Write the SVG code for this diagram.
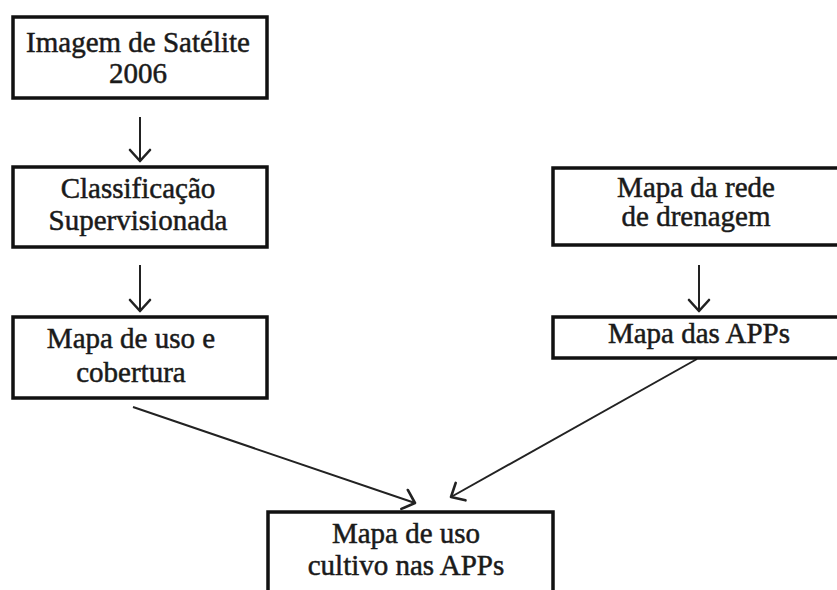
<svg xmlns="http://www.w3.org/2000/svg" width="837" height="590" viewBox="0 0 837 590">
<style>
.box{fill:#fff;stroke:#111;stroke-width:3.5}
.t{font-family:"Liberation Serif","DejaVu Serif",serif;font-size:29px;fill:#1a1a1a;stroke:#1a1a1a;stroke-width:0.5;text-anchor:middle}
.c{fill:none;stroke:#222;stroke-width:2;marker-end:url(#ah)}
</style>
<defs>
<marker id="ah" markerUnits="userSpaceOnUse" markerWidth="30" markerHeight="30" viewBox="-15 -15 30 30" refX="0" refY="0" orient="auto">
<polyline points="-11,-10 0,0 -11,10" fill="none" stroke="#222" stroke-width="2.6" stroke-linecap="round" stroke-linejoin="round"/>
</marker>
</defs>
<rect width="837" height="590" fill="#fff"/>
<g id="connectors">
<line class="c" x1="140" y1="117" x2="140" y2="161"/>
<line class="c" x1="140" y1="265" x2="140" y2="311"/>
<line class="c" x1="699" y1="265" x2="699" y2="311"/>
<line class="c" x1="133" y1="407" x2="415" y2="503"/>
<line class="c" x1="697" y1="359" x2="451" y2="497"/>
</g>
<g id="n1"><rect class="box" x="13" y="17" width="254" height="81"/>
<text class="t" x="138" y="52">Imagem de Satélite</text><text class="t" x="138" y="83">2006</text></g>
<g id="n2"><rect class="box" x="13" y="167" width="254" height="80"/>
<text class="t" x="138" y="198">Classificação</text><text class="t" x="138" y="230">Supervisionada</text></g>
<g id="n3"><rect class="box" x="13" y="317" width="254" height="81"/>
<text class="t" x="131" y="348">Mapa de uso e</text><text class="t" x="131" y="382">cobertura</text></g>
<g id="n4"><rect class="box" x="553" y="168" width="300" height="77"/>
<text class="t" x="696" y="197">Mapa da rede</text><text class="t" x="696" y="226">de drenagem</text></g>
<g id="n5"><rect class="box" x="553" y="317" width="300" height="41"/>
<text class="t" x="699" y="343">Mapa das APPs</text></g>
<g id="n6"><rect class="box" x="268" y="512" width="285" height="100"/>
<text class="t" x="406" y="543">Mapa de uso</text><text class="t" x="406" y="575">cultivo nas APPs</text></g>
</svg>
